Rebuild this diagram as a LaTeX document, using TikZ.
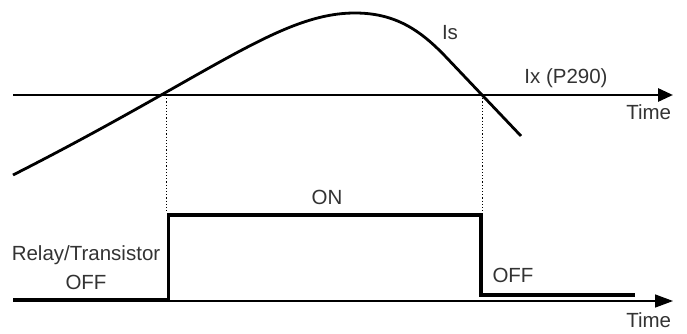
\documentclass[tikz,border=0pt]{standalone}
\usepackage{fontspec}
\setmainfont{Liberation Sans}
\usepackage{tikz}
\usetikzlibrary{arrows.meta}

\begin{document}
\begin{tikzpicture}[x=1pt,y=1pt,yscale=-1,xscale=1,
  lbl/.style={inner sep=0.75pt,text=black!80,font=\fontsize{20.5}{24}\selectfont},
  thickline/.style={line width=2.8pt},
  sigline/.style={line width=3.3pt},
  thinline/.style={line width=1.5pt},
  guide/.style={line width=0.8pt,dash pattern={on 1.2pt off 2pt}}]
\useasboundingbox (0,0) rectangle (687,334);

%Straight Lines: current threshold axis
\draw [thickline,-{Triangle[length=15pt,width=13pt]}]  (13,95) -- (673,95) ;
%Curve Lines: Is
\draw [thickline]  (13,175) .. controls (210,75) and (280,13) .. (355,13) .. controls (395,13) and (420,30) .. (445,56) -- (521,136) ;
%Straight Lines: guides
\draw [guide]  (166.5,95) -- (166.5,213) ;
\draw [guide]  (482,95) -- (482,213) ;
%Straight Lines: output axis
\draw [thinline,-{Triangle[length=18pt,width=13pt]}]  (13,301) -- (673,301) ;
%Straight Lines: output signal
\draw [sigline]  (13,300) -- (168.5,300) -- (168.5,215) -- (481,215) -- (481,295) -- (635,295) ;

% Text Node
\node [lbl] (is) at (450,33) {Is};
% Text Node
\node [lbl] (ix) at (566,78) {Ix (P290)};
% Text Node
\node [lbl,anchor=east] (timeA) at (672,112) {Time};
% Text Node
\node [lbl] (on) at (327,197) {ON};
% Text Node
\node [lbl] (relay) at (86,255) {Relay/Transistor};
% Text Node
\node [lbl] (offA) at (86,282) {OFF};
% Text Node
\node [lbl] (offB) at (513,275) {OFF};
% Text Node
\node [lbl,anchor=east] (timeB) at (672,320) {Time};

\end{tikzpicture}
\end{document}
